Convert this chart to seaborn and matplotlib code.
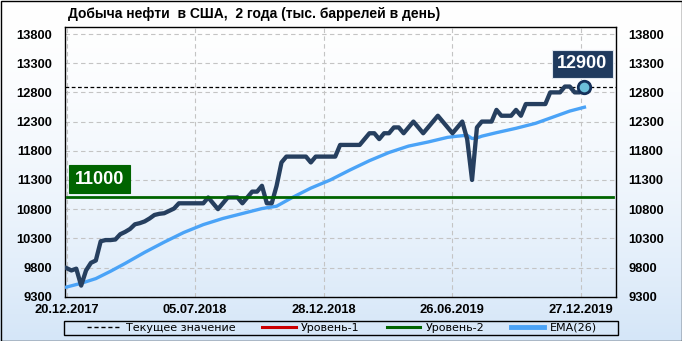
import numpy as np
import pandas as pd
import matplotlib
matplotlib.use("Agg")
import matplotlib.pyplot as plt
import seaborn as sns
from matplotlib.lines import Line2D
from matplotlib.patches import Rectangle
from matplotlib.colors import LinearSegmentedColormap

# ---------------- data ----------------
production = [
    9790, 9750, 9780, 9490, 9750, 9880, 9920, 10250, 10270, 10270,
    10280, 10370, 10410, 10460, 10540, 10560, 10590, 10640, 10700, 10720,
    10730, 10770, 10810, 10900, 10900, 10900, 10900, 10900, 10900, 11000,
    10900, 10800, 10900, 11000, 11000, 11000, 10900, 11000, 11100, 11100,
    11200, 10900, 10900, 11200, 11600, 11700, 11700, 11700, 11700, 11700,
    11600, 11700, 11700, 11700, 11700, 11700, 11900, 11900, 11900, 11900,
    11900, 12000, 12100, 12100, 12000, 12100, 12100, 12200, 12200, 12100,
    12200, 12300, 12200, 12100, 12200, 12300, 12400, 12300, 12200, 12100,
    12200, 12300, 12000, 11300, 12200, 12300, 12300, 12300, 12500, 12400,
    12400, 12400, 12500, 12400, 12600, 12600, 12600, 12600, 12600, 12800,
    12800, 12800, 12900, 12900, 12800, 12800, 12900,
]
week_index = list(range(len(production)))

ema_index = [0, 3, 6, 9, 12, 16, 20, 24, 28, 32, 36, 40, 43, 46, 50, 54,
             58, 62, 66, 70, 74, 78, 80, 82, 83, 84, 85, 88, 92, 96, 100, 103, 106]
ema_values = [9465, 9530, 9610, 9735, 9870, 10060, 10235, 10400, 10535, 10640,
              10725, 10810, 10850, 10990, 11160, 11300, 11470, 11630, 11770,
              11880, 11950, 12030, 12050, 12065, 12010, 12020, 12050, 12110,
              12185, 12270, 12390, 12480, 12546]

tick_labels = ["20.12.2017", "05.07.2018", "28.12.2018", "26.06.2019", "27.12.2019"]
tick_positions = [0, 26.3, 52.6, 78.9, 105.2]
y_ticks = list(range(9300, 13801, 500))
level_2 = 11000
current_value = production[-1]

title = "Добыча нефти  в США,  2 года (тыс. баррелей в день)"
legend_labels = ["Текущее значение", "Уровень-1", "Уровень-2", "EMA(26)"]

# ---------------- figure ----------------
NAVY = "#263f5f"
EMA_BLUE = "#4aa3f7"
GREEN = "#006400"
FONT = "Liberation Sans"

fig = plt.figure(figsize=(6.82, 3.41), dpi=100)

# gradient background
bg = fig.add_axes([0, 0, 1, 1], zorder=-10)
t = np.linspace(0, 1, 256) ** 1.6
grad = t[:, None]
cmap = LinearSegmentedColormap.from_list("bg", ["#ffffff", "#d5e6f8"])
bg.imshow(grad, aspect="auto", cmap=cmap, extent=[0, 1, 0, 1], origin="upper")
bg.set_axis_off()

ax = fig.add_axes([64.5 / 682, 1 - 296.7 / 341, (615.7 - 64.5) / 682, (296.7 - 27.3) / 341])
ax.set_facecolor("none")

df_main = pd.DataFrame({"x": week_index, "y": production})
df_ema = pd.DataFrame({"x": ema_index, "y": ema_values})

sns.lineplot(data=df_ema, x="x", y="y", ax=ax, color=EMA_BLUE, linewidth=2.4,
             zorder=3, legend=False)
sns.lineplot(data=df_main, x="x", y="y", ax=ax, color=NAVY, linewidth=3.1,
             zorder=4, legend=False)

ax.axhline(current_value, color="black", linewidth=0.9,
           linestyle=(0, (3, 2)), zorder=3.5)
ax.axhline(level_2, xmin=0.004, xmax=0.995, color=GREEN,
           linewidth=2.0, zorder=5)

# current point marker
ax.plot([week_index[-1]], [current_value], marker="o", markersize=9,
        markerfacecolor="#6cbfd9", markeredgecolor="#14305a",
        markeredgewidth=2.0, zorder=6, linestyle="none")

# value labels
ax.annotate(f"{current_value}", xy=(week_index[-1], current_value),
            xytext=(-1.5, 16.5), textcoords="offset points",
            ha="center", va="center", color="white", fontsize=13,
            fontweight="bold", family=FONT, zorder=7,
            bbox=dict(boxstyle="square,pad=0.3", facecolor="#1f3a5e",
                      edgecolor="#dfe6ee", linewidth=0.8))
ax.annotate(f"{level_2}", xy=(0.0635, level_2),
            xycoords=("axes fraction", "data"),
            xytext=(0, 13), textcoords="offset points",
            ha="center", va="center", color="white", fontsize=13,
            fontweight="bold", family=FONT, zorder=7,
            bbox=dict(boxstyle="square,pad=0.3", facecolor=GREEN,
                      edgecolor=GREEN, linewidth=0.8))

# axes styling
ax.set_xlim(-0.41, 112.4)
ax.set_ylim(9300, 13915)
ax.set_yticks(y_ticks)
ax.set_xticks(tick_positions)
ax.set_xticklabels(tick_labels)
ax.set_xlabel("")
ax.set_ylabel("")
ax.grid(True, color="#c4c4c4", linestyle=(0, (4, 3)), linewidth=0.8, zorder=0)
ax.set_axisbelow(True)
ax.tick_params(axis="y", length=0, pad=9, labelleft=True, labelright=True,
               labelsize=9.3)
ax.tick_params(axis="x", length=0, pad=5, labelsize=9.3)
for tick in ax.yaxis.get_major_ticks():
    for lab in (tick.label1, tick.label2):
        lab.set_fontweight("bold")
        lab.set_family(FONT)
for tick in ax.xaxis.get_major_ticks():
    tick.label1.set_fontweight("bold")
    tick.label1.set_family(FONT)
for sp in ax.spines.values():
    sp.set_color("black")
    sp.set_linewidth(1.0)

# title
fig.text(68 / 682, 1 - 14 / 341, title, ha="left", va="center",
         fontsize=10, fontweight="bold", family=FONT)

# legend
handles = [
    Line2D([], [], color="black", linewidth=1.0, linestyle=(0, (3, 2))),
    Line2D([], [], color="#cc0000", linewidth=2.2),
    Line2D([], [], color=GREEN, linewidth=2.2),
    Line2D([], [], color=EMA_BLUE, linewidth=3.5),
]
leg = fig.legend(handles, legend_labels, ncol=4, loc="center",
                 bbox_to_anchor=(342 / 682, 1 - 328 / 341),
                 frameon=False, prop={"family": "DejaVu Sans", "size": 8},
                 handlelength=3.0, handletextpad=0.5, columnspacing=2.4,
                 borderpad=0, borderaxespad=0)
fig.patches.append(Rectangle((64 / 682, 1 - 335 / 341), (618 - 64) / 682, 14.5 / 341,
                             transform=fig.transFigure, fill=False,
                             edgecolor="black", linewidth=1.0))

# outer border
fig.patches.append(Rectangle((0.5 / 682, 0.5 / 341), 1 - 1 / 682, 1 - 1 / 341,
                             transform=fig.transFigure, fill=False,
                             edgecolor="black", linewidth=1.0))

fig.savefig("out.png", dpi=100)
